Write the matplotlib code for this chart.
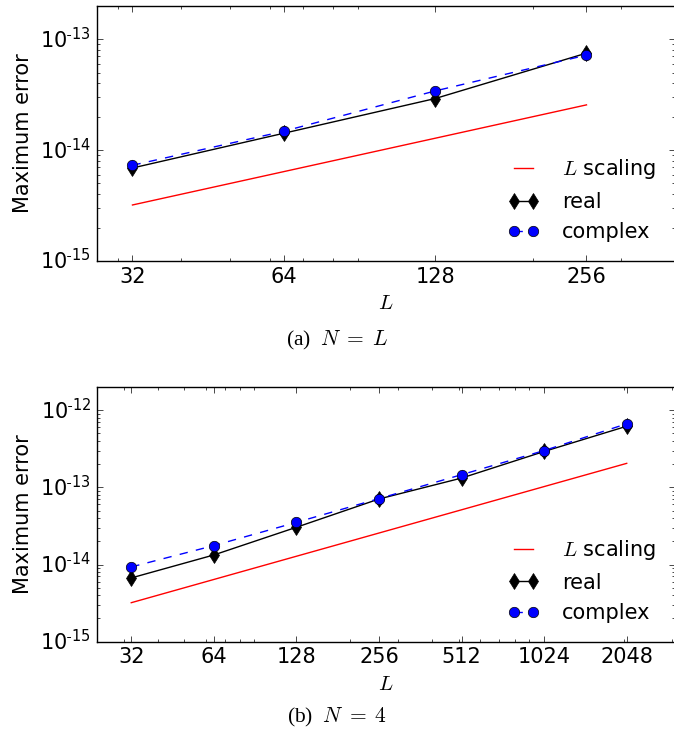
import matplotlib
matplotlib.use('Agg')
import numpy as np
import matplotlib.pyplot as plt
from matplotlib.ticker import NullFormatter, FuncFormatter

plt.style.use('classic')
plt.rcParams['figure.facecolor'] = 'white'
plt.rcParams['savefig.facecolor'] = 'white'
plt.rcParams['mathtext.fontset'] = 'cm'
plt.rcParams['axes.unicode_minus'] = False
plt.rcParams['font.size'] = 15

# (a) N = L
L_a = [32, 64, 128, 256]
real_a = [6.9e-15, 1.42e-14, 2.92e-14, 7.5e-14]
complex_a = [7.3e-15, 1.48e-14, 3.42e-14, 7.2e-14]
scale_a = [1e-16 * l for l in L_a]

# (b) N = 4
L_b = [32, 64, 128, 256, 512, 1024, 2048]
real_b = [6.7e-15, 1.33e-14, 3.04e-14, 7.07e-14, 1.32e-13, 2.92e-13, 6.2e-13]
complex_b = [9.3e-15, 1.76e-14, 3.52e-14, 7.15e-14, 1.46e-13, 3.0e-13, 6.67e-13]
scale_b = [1e-16 * l for l in L_b]


def exp_label(v, pos):
    # old-style 10^-n labels with a plain hyphen
    e = int(round(np.log10(v)))
    if e < 0:
        return r'$\mathdefault{10^{\text{-}%d}}$' % (-e)
    return r'$\mathdefault{10^{%d}}$' % e


fig = plt.figure(figsize=(6.74, 7.31), dpi=100)
ax1 = fig.add_axes([0.1439, 0.643, 0.8576, 0.3489])
ax2 = fig.add_axes([0.1439, 0.1222, 0.8576, 0.3484])


def draw(ax, L, real, cplx, scale, xlim, ylim):
    ax.loglog(L, scale, 'r-', label=r'$L$ scaling')
    ax.loglog(L, real, 'k-d', ms=8, mec='k', label='real')
    ax.loglog(L, cplx, 'b--o', ms=7.5, mec='k', label='complex')
    ax.set_xlim(xlim)
    ax.set_ylim(ylim)
    ax.set_xticks(L)
    ax.set_xticklabels([str(l) for l in L])
    ax.xaxis.set_minor_formatter(NullFormatter())
    ax.yaxis.set_major_formatter(FuncFormatter(exp_label))
    ax.yaxis.set_minor_formatter(NullFormatter())
    ax.set_xlabel(r'$L$')
    ax.set_ylabel('Maximum error')
    ax.legend(loc='lower right', frameon=False, numpoints=2,
              handlelength=1.5, handletextpad=1.1, fontsize=15)


draw(ax1, L_a, real_a, complex_a, scale_a, (27.2, 384), (1e-15, 2e-13))
draw(ax2, L_b, real_b, complex_b, scale_b, (24, 3072), (1e-15, 2e-12))

fig.text(0.5, 1 - 340 / 731, r'(a)  $N\;=\;L$', ha='center', va='center',
         family='Liberation Serif', fontsize=15.5)
fig.text(0.5, 1 - 717 / 731, r'(b)  $N\;=\;4$', ha='center', va='center',
         family='Liberation Serif', fontsize=15.5)

fig.savefig('out.png', dpi=100)
